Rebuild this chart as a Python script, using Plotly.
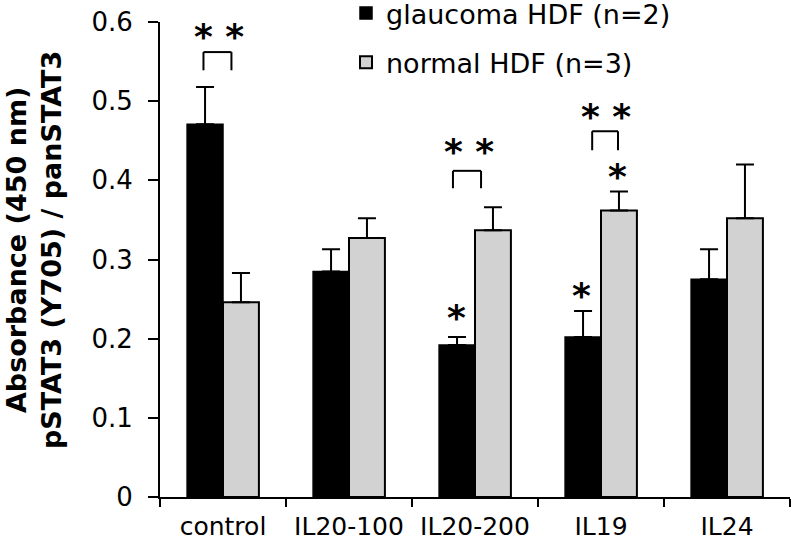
import plotly.graph_objects as go

categories = ["control", "IL20-100", "IL20-200", "IL19", "IL24"]
glaucoma = [0.471, 0.285, 0.192, 0.202, 0.275]
glaucoma_err = [0.047, 0.028, 0.010, 0.033, 0.038]
normal = [0.246, 0.327, 0.337, 0.362, 0.352]
normal_err = [0.037, 0.025, 0.029, 0.024, 0.068]
y_ticks = [0, 0.1, 0.2, 0.3, 0.4, 0.5, 0.6]
y_tick_labels = ["0", "0.1", "0.2", "0.3", "0.4", "0.5", "0.6"]

# significance markers: (category index offset, y, text)
star_x = [-0.028, 1.952, 3.04, 3.127, 1.857, 2.849]
star_y = [0.587, 0.441, 0.486, 0.410, 0.232, 0.259]
star_text = ["* *", "* *", "* *", "*", "*", "*"]

# brackets: x left, x right, y bottom, y top
br_x0 = [-0.155, 1.825, 2.93]
br_x1 = [0.067, 2.048, 3.135]
br_y0 = [0.539, 0.390, 0.438]
br_y1 = [0.562, 0.412, 0.462]

FONT = "DejaVu Sans"

fig = go.Figure()
fig.add_trace(go.Bar(
    x=categories, y=glaucoma, name="glaucoma HDF (n=2)",
    marker=dict(color="black", line=dict(color="black", width=1.5)),
    error_y=dict(type="data", array=glaucoma_err, arrayminus=[0]*5, symmetric=False,
                 color="black", thickness=2, width=9),
    legendgroup="g1",
))
fig.add_trace(go.Bar(
    x=categories, y=normal, name="normal HDF (n=3)",
    marker=dict(color="#d2d2d2", line=dict(color="black", width=2)),
    error_y=dict(type="data", array=normal_err, arrayminus=[0]*5, symmetric=False,
                 color="black", thickness=2, width=9),
    legendgroup="g2",
))

for x0, x1, y0, y1 in zip(br_x0, br_x1, br_y0, br_y1):
    fig.add_shape(type="line", xref="x", yref="y", x0=x0, x1=x0, y0=y0, y1=y1,
                  line=dict(color="black", width=2))
    fig.add_shape(type="line", xref="x", yref="y", x0=x0, x1=x1, y0=y1, y1=y1,
                  line=dict(color="black", width=2))
    fig.add_shape(type="line", xref="x", yref="y", x0=x1, x1=x1, y0=y0, y1=y1,
                  line=dict(color="black", width=2))

for sx, sy, st in zip(star_x, star_y, star_text):
    fig.add_annotation(x=sx, y=sy, xref="x", yref="y", text="<b>" + st + "</b>",
                       showarrow=False,
                       font=dict(family=FONT, size=36, color="black"),
                       xanchor="center", yanchor="middle", yshift=-4)

fig.add_annotation(
    text="<b>Absorbance (450 nm)<br>pSTAT3 (Y705) / panSTAT3</b>",
    xref="paper", yref="paper", x=(34-160)/630, y=0.52,
    xanchor="center", yanchor="middle", textangle=-90, showarrow=False,
    font=dict(family=FONT, size=27, color="black"),
)

fig.update_layout(
    width=792, height=546,
    margin=dict(l=160, r=2, t=22, b=49, autoexpand=False),
    paper_bgcolor="white", plot_bgcolor="white",
    barmode="group", bargap=0.43, bargroupgap=0,
    showlegend=True,
    legend=dict(x=(346-160)/630, y=1.0 + (22+11)/475, xanchor="left", yanchor="top",
                font=dict(family=FONT, size=27, color="black"),
                bgcolor="rgba(0,0,0,0)", itemwidth=30, tracegroupgap=11,
                traceorder="grouped"),
    font=dict(family=FONT, color="black"),
)
fig.update_xaxes(
    showline=True, linecolor="black", linewidth=2,
    ticks="outside", tickson="boundaries", ticklen=8, tickwidth=2, tickcolor="black",
    tickfont=dict(family=FONT, size=25, color="black"), ticklabelstandoff=6,
    showgrid=False, zeroline=False,
)
fig.update_yaxes(
    range=[0, 0.6], tickmode="array", tickvals=y_ticks, ticktext=y_tick_labels,
    showline=True, linecolor="black", linewidth=2,
    ticks="outside", ticklen=10, tickwidth=2, tickcolor="black",
    tickfont=dict(family=FONT, size=26, color="black"), ticklabelstandoff=10,
    showgrid=False, zeroline=False,
)

fig.write_html("out.html", config={"displayModeBar": False},
               post_script="document.body.style.margin='0';")
